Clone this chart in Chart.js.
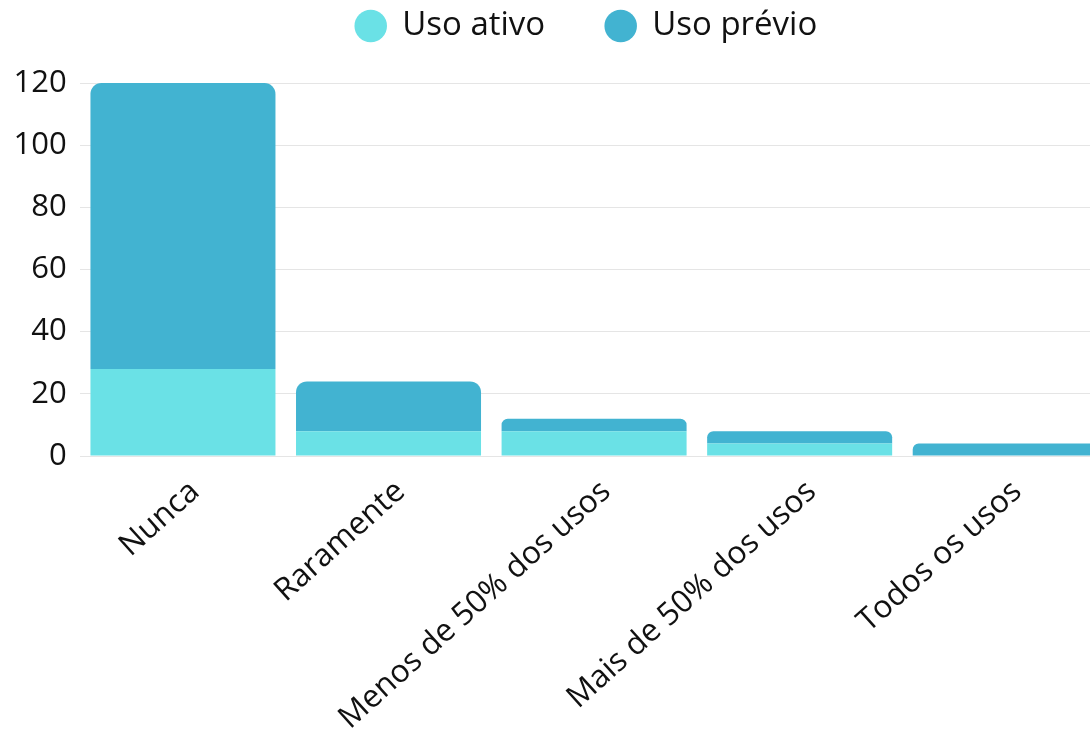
<!DOCTYPE html>
<html>
<head>
<meta charset="utf-8">
<script src="https://cdn.jsdelivr.net/npm/chart.js@4/dist/chart.umd.min.js"></script>
<style>
  html, body { margin: 0; padding: 0; background: #fff; overflow: hidden; }
  #wrap { width: 1108px; height: 738px; }
</style>
</head>
<body>
<div id="wrap"><canvas id="usage"></canvas></div>
<script>
const categories = ["Nunca", "Raramente", "Menos de 50% dos usos", "Mais de 50% dos usos", "Todos os usos"];
const activeUse = [28, 8, 8, 4, 0];
const previousUse = [92, 16, 4, 4, 4];
const yTicks = [0, 20, 40, 60, 80, 100, 120];

const activeColor = "#6ae1e6";
const previousColor = "#42b3d1";
const textColor = "#111";

Chart.defaults.font.family = "'Open Sans', 'Noto Sans', sans-serif";
Chart.defaults.font.size = 33;
Chart.defaults.color = textColor;

// taller legend box so the plot starts lower, and the legend row nudged right
const legendPlacement = {
  id: "legendPlacement",
  beforeInit(chart) {
    const fit = chart.legend.fit;
    chart.legend.fit = function () {
      fit.bind(chart.legend)();
      this.height = 134;
    };
  },
  afterLayout(chart) {
    chart.legend.left += 32.5;
    chart.legend.right += 32.5;
  },
};

new Chart(document.getElementById("usage"), {
  type: "bar",
  data: {
    labels: categories,
    datasets: [
      {
        label: "Uso ativo",
        data: activeUse,
        backgroundColor: activeColor,
        borderRadius: 0,
        categoryPercentage: 1,
        barPercentage: 0.9,
      },
      {
        label: "Uso prévio",
        data: previousUse,
        backgroundColor: previousColor,
        borderRadius: { topLeft: 11, topRight: 11 },
        borderSkipped: false,
        categoryPercentage: 1,
        barPercentage: 0.9,
      },
    ],
  },
  plugins: [legendPlacement],
  options: {
    responsive: true,
    maintainAspectRatio: false,
    animation: false,
    layout: { padding: { left: 0, top: -51, right: 0, bottom: 0 } },
    plugins: {
      legend: {
        labels: {
          usePointStyle: true,
          pointStyle: "circle",
          boxWidth: 30,
          boxHeight: 23,
          padding: 60.5,
          color: textColor,
        },
      },
      tooltip: { enabled: false },
    },
    scales: {
      x: {
        stacked: true,
        grid: { display: false, drawTicks: false },
        border: { display: false },
        afterFit: (axis) => {
          axis.height = 282;
        },
        ticks: {
          maxRotation: 42,
          minRotation: 42,
          color: textColor,
          padding: 17,
          labelOffset: 12,
          font: { size: 31.5 },
        },
      },
      y: {
        stacked: true,
        min: 0,
        max: 120,
        afterBuildTicks: (axis) => {
          axis.ticks = yTicks.map((v) => ({ value: v }));
        },
        grid: { drawTicks: false },
        border: { display: false },
        ticks: { color: textColor, padding: 13.5, font: { size: 31 } },
      },
    },
  },
});
</script>
</body>
</html>
